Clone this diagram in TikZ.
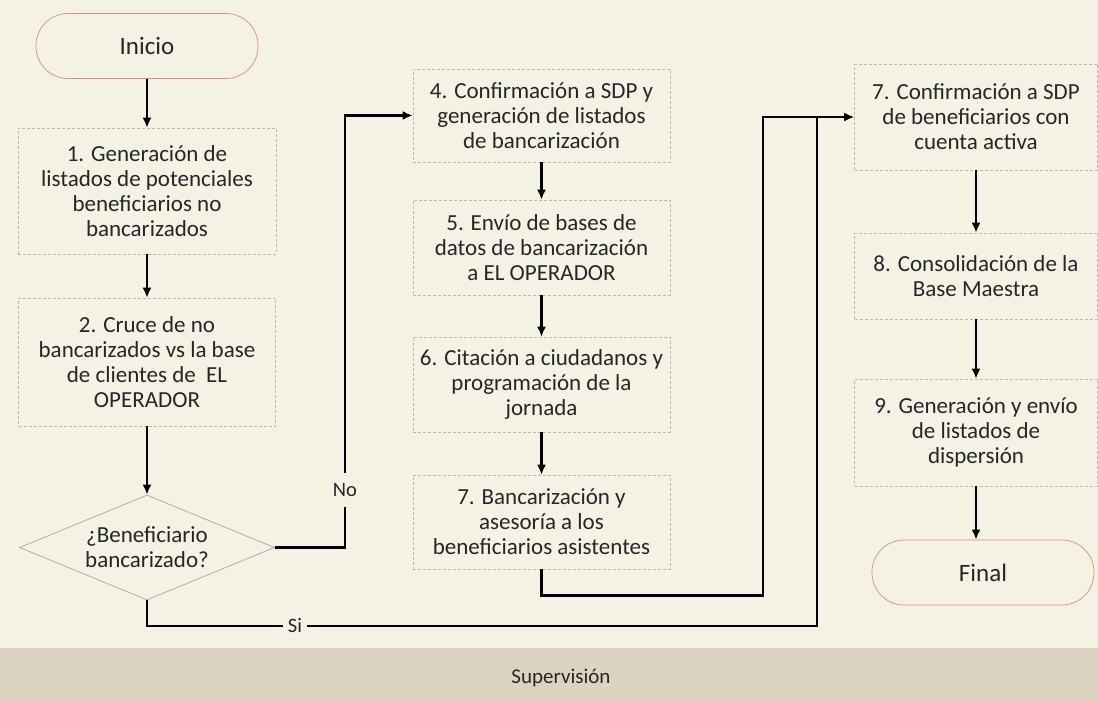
\documentclass[tikz,border=0pt]{standalone}
\usepackage{fontspec}
\setmainfont{Carlito}
\usetikzlibrary{shapes.geometric,arrows.meta}
\definecolor{paper}{RGB}{244,241,229}
\definecolor{band}{RGB}{218,212,193}
\definecolor{ink}{RGB}{38,38,38}
\definecolor{edge}{RGB}{185,185,178}
\definecolor{rose}{RGB}{214,146,124}

\begin{document}
\begin{tikzpicture}[x=1pt,y=-1pt,
	every node/.style={text=ink,font=\fontsize{23}{25}\selectfont},
	stepbox/.style={draw=edge,densely dashed,line width=0.6pt,fill=paper,align=center,inner sep=0pt},
	term/.style={draw=rose,line width=0.7pt,rounded corners=32pt,minimum width=222pt,minimum height=65pt,inner sep=0pt,font=\fontsize{25}{28}\selectfont},
	decide/.style={diamond,aspect=2.43,draw=gray!70,line width=0.7pt,minimum width=255pt,minimum height=105pt,inner sep=0pt,align=center},
	lbl/.style={fill=paper,font=\fontsize{20.5}{22}\selectfont,inner xsep=5pt,inner ysep=10pt},
	flow/.style={line width=2.4pt,-{Latex[length=10pt,width=9pt]}},
	wire/.style={line width=2.4pt}]
	\useasboundingbox (0,0) rectangle (1098,701);
	\fill[paper] (0,0) rectangle (1098,648);
	\fill[band] (0,648) rectangle (1098,701);
	\node (sup) [font=\fontsize{21}{24}\selectfont] at (561,678) {Supervisión};
	
	\node (inicio) [term] at (147,46) {Inicio};
	\node (b1) [stepbox,minimum width=258pt,minimum height=126pt] at (147,191) {1. Generación de\\listados de potenciales\\beneficiarios no\\bancarizados};
	\node (b2) [stepbox,minimum width=257pt,minimum height=128pt] at (147,362) {2. Cruce de no\\bancarizados vs la base\\de clientes de ~EL\\OPERADOR};
	\node (dec) [decide] at (147,547.5) {¿Beneficiario\\bancarizado?};
	
	\node (b4) [stepbox,minimum width=257pt,minimum height=93pt] at (541.5,115.5) {4. Confirmación a SDP y\\generación de listados\\de bancarización};
	\node (b5) [stepbox,minimum width=257pt,minimum height=95pt] at (541.5,247.5) {5. Envío de bases de\\datos de bancarización\\a EL OPERADOR};
	\node (b6) [stepbox,minimum width=257pt,minimum height=95pt] at (541.5,384.5) {6. Citación a ciudadanos y\\programación de la\\jornada};
	\node (b7) [stepbox,minimum width=257pt,minimum height=94pt] at (541.5,522) {7. Bancarización y\\asesoría a los\\beneficiarios asistentes};
	
	\node (r7) [stepbox,minimum width=243pt,minimum height=106pt] at (976,117) {7. Confirmación a SDP\\de beneficiarios con\\cuenta activa};
	\node (r8) [stepbox,minimum width=243pt,minimum height=86pt] at (976,276) {8. Consolidación de la\\Base Maestra};
	\node (r9) [stepbox,minimum width=243pt,minimum height=107pt] at (976,432.5) {9. Generación y envío\\de listados de\\dispersión};
	\node (final) [term] at (983,572.5) {Final};
	
	\node (no) [lbl] at (345,490) {No};
	\node (si) [lbl] at (295,626) {Si};
	\coordinate (bk) at (763,117);
	\coordinate (sj) at (817,117);
	
	\draw [flow] (inicio) -- (b1);
	\draw [flow] (b1) -- (b2);
	\draw [flow] (b2) -- (dec);
	\draw [wire] (dec.east) -| (no.south);
	\draw [flow] (no.north) |- (b4.west);
	\draw [flow] (b4) -- (b5);
	\draw [flow] (b5) -- (b6);
	\draw [flow] (b6) -- (b7);
	\draw [wire] (dec.south) |- (si.west);
	\draw [wire] (si.east) -| (sj);
	\draw [flow] (b7.south) -- ++(0,26) -| (bk) -- (r7.west);
	\draw [flow] (r7) -- (r8);
	\draw [flow] (r8) -- (r9);
	\draw [flow] (r9.south) -- (final.north -| r9.south);
	
\end{tikzpicture}
\end{document}
